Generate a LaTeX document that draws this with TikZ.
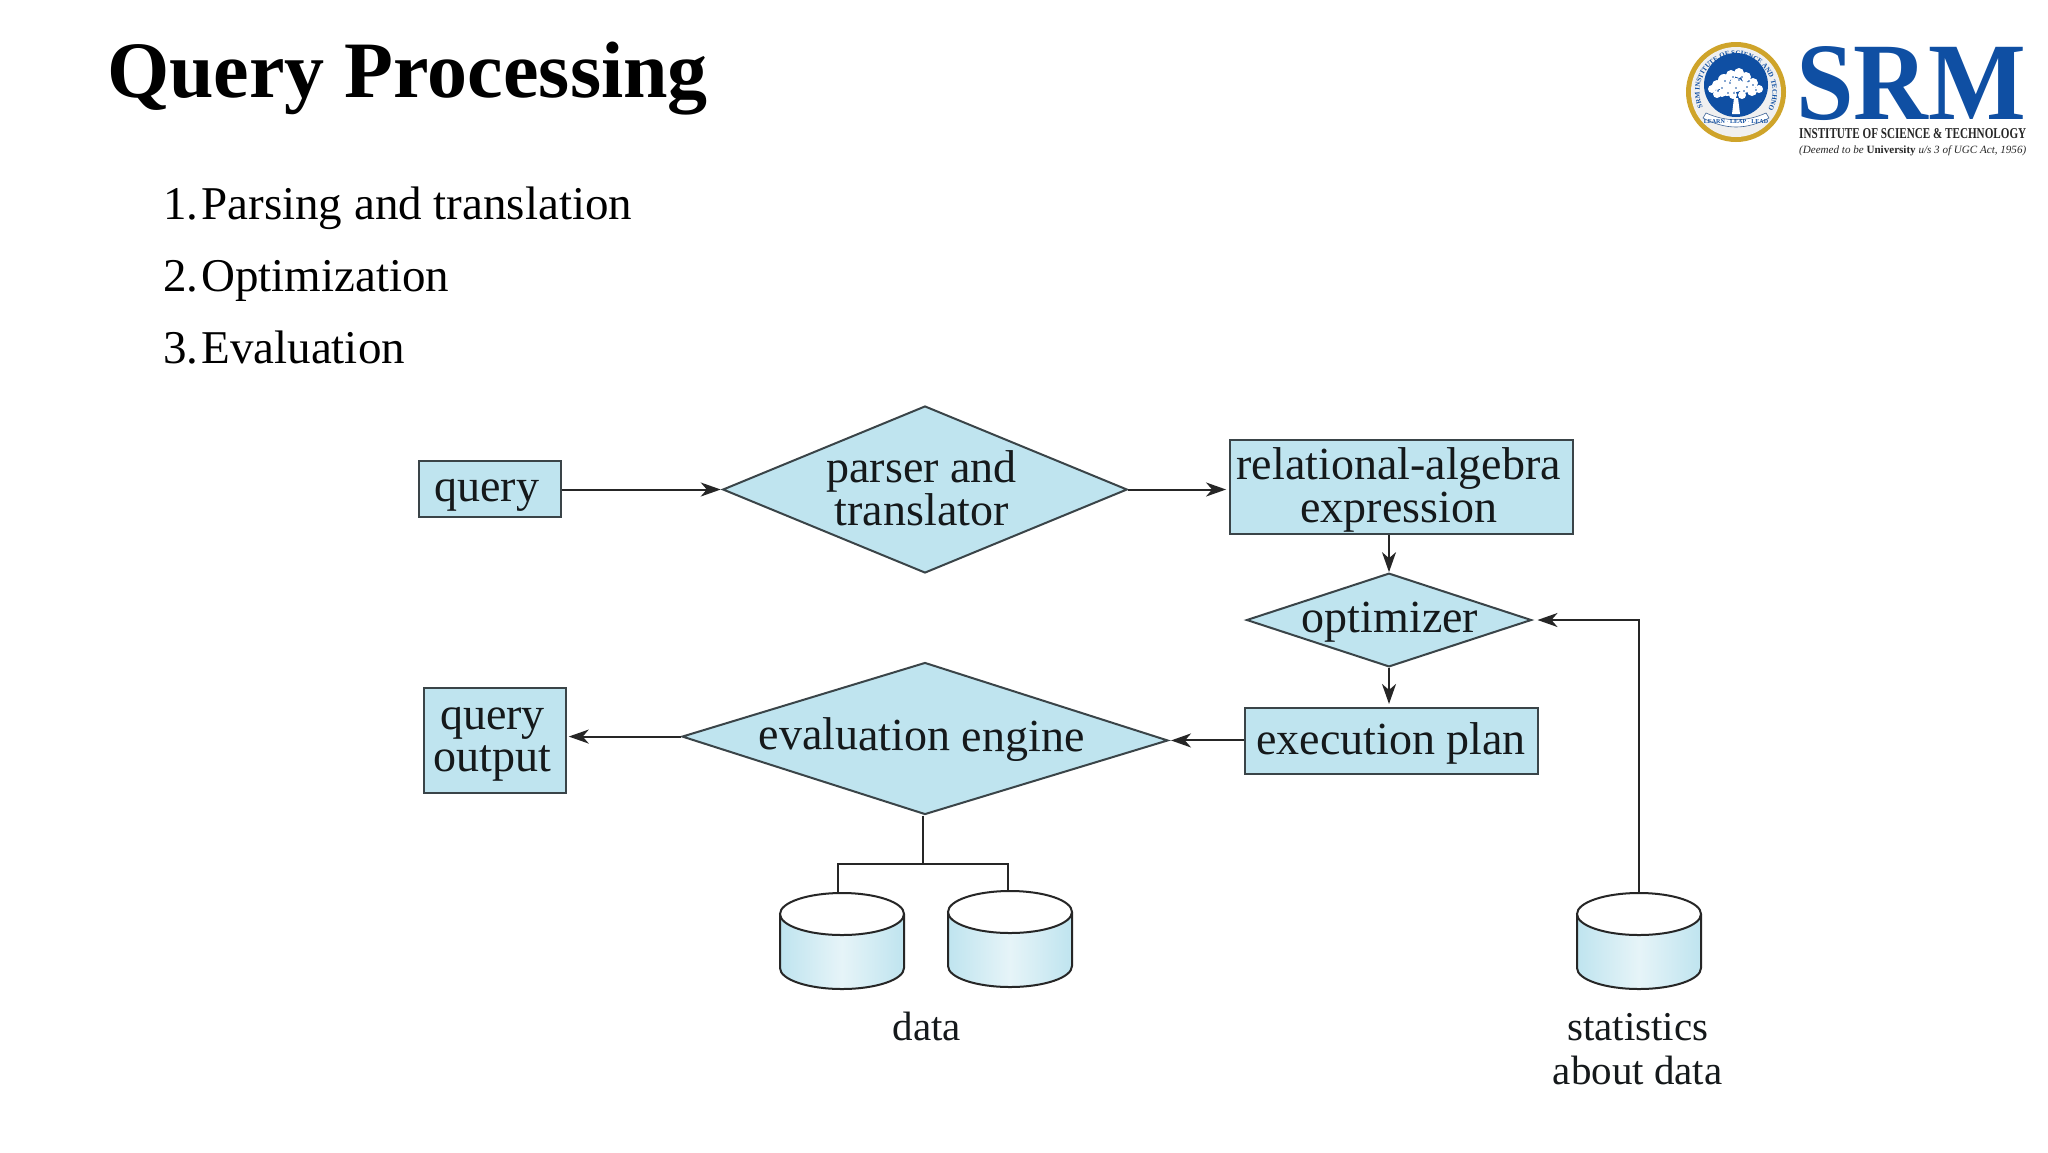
\documentclass[tikz,border=0pt]{standalone}
\usepackage{fontspec}
\setmainfont{Liberation Serif}
\usetikzlibrary{arrows.meta,shapes.geometric,decorations.text}
\definecolor{boxfill}{HTML}{BFE4EF}
\definecolor{boxedge}{HTML}{3A4448}
\definecolor{linecol}{HTML}{262626}
\definecolor{cylpale}{HTML}{E6F4F8}
\definecolor{srmblue}{HTML}{0F4FA3}
\definecolor{srmgold}{HTML}{CFA42A}
\definecolor{txtcol}{HTML}{15191B}
\newcommand\zt[3]{\raisebox{\dimexpr#2pt-4pt\relax}[0pt][0pt]{\makebox[0pt]{\hspace*{#1pt}\hspace*{#1pt}#3}}}
\newcommand\dbcyl[1]{%
  \begin{scope}[shift={#1}]
    \shade[left color=boxfill,right color=boxfill,middle color=cylpale]
      (-62,0) -- (-62,54) .. controls (-62,65.6) and (-34,75) .. (0,75)
      .. controls (34,75) and (62,65.6) .. (62,54) -- (62,0) -- cycle;
    \draw[cylline] (-62,0) -- (-62,54) .. controls (-62,65.6) and (-34,75) .. (0,75)
      .. controls (34,75) and (62,65.6) .. (62,54) -- (62,0);
    \draw[cylline,fill=white] (0,0) ellipse [x radius=62pt,y radius=21pt];
  \end{scope}}
\tikzset{
  x=1pt,y=-1pt,
  box/.style={draw=boxedge,line width=2pt,fill=boxfill,inner sep=0pt,text=txtcol,
    font=\fontsize{46}{46}\selectfont},
  dia/.style={diamond,draw=boxedge,line width=2pt,fill=boxfill,inner sep=0pt,text=txtcol,
    font=\fontsize{46}{46}\selectfont},
  cylline/.style={draw=linecol,line width=2pt},
  conn/.style={draw=linecol,line width=2pt},
  arr/.style={conn,-{Stealth[length=20pt,width=14pt,inset=6pt]}},
  caption/.style={anchor=base,text=txtcol,inner sep=0pt,font=\fontsize{41}{41}\selectfont},
  listitem/.style={anchor=base west,inner sep=0pt,text=black,font=\fontsize{47}{47}\selectfont},
}
\begin{document}
\begin{tikzpicture}
\useasboundingbox (0,0) rectangle (2048,1152);
\fill[white] (0,0) rectangle (2048,1152);

% title and list
\node[anchor=base west,inner sep=0pt,font=\fontsize{80}{80}\selectfont\bfseries] (title) at (107,97) {Query Processing};
\node[listitem] (l1) at (163,219) {1.\kern3pt Parsing and translation};
\node[listitem] (l2) at (163,291) {2.\kern3pt Optimization};
\node[listitem] (l3) at (163,363) {3.\kern3pt Evaluation};

% logo
\begin{scope}[shift={(1736,92)},x=1pt,y=1pt]
  \fill[srmgold] (0,0) circle (50);
  \fill[white!94!black] (0,0) circle (45);
  \fill[srmblue] (0,7) circle (32);
  \path[decorate,decoration={text along path,text align=fit to path,text color=srmblue,
    text={|\fontsize{7}{7}\selectfont\bfseries|SRM INSTITUTE OF SCIENCE AND TECHNOLOGY}}]
    (205:36.5) arc (205:-25:36.5);
  \fill[white] (-4,-22) -- (-2,-6) -- (2,-6) -- (4,-22) -- cycle;
  \foreach \px/\py/\pr in {-24/3/4,-19/-2/4,-19/7/5,-12/12/6,-5/17/5,3/19/5,10/15/5,17/9/5,23/3/4,16/1/5,8/5/6,0/7/7,-9/3/7,-3/-3/4,6/-3/4,-14/-1/4}
    \fill[white] (\px,\py) circle (\pr);
  \foreach \px/\py in {-14/4,-6/9,3/12,11/5,-2/-1,-18/1,8/1,17/7,-3/15,-11/11,6/15,13/11,-8/-1,20/2,0/4}
    \fill[srmblue] (\px,\py) circle (.9);
  \fill[white] (-30,-21) .. controls (-10,-30) and (10,-30) .. (30,-21)
     -- (33,-26) .. controls (10,-38) and (-10,-38) .. (-33,-26) -- cycle;
  \draw[srmblue!60!gray,line width=.6pt] (-30,-21) .. controls (-10,-30) and (10,-30) .. (30,-21)
     -- (33,-26) .. controls (10,-38) and (-10,-38) .. (-33,-26) -- cycle;
  \node[text=srmblue,inner sep=0pt,font=\fontsize{6}{6}\selectfont\bfseries] (motto) at (0,-29.5) {LEARN $\cdot$ LEAP $\cdot$ LEAD};
\end{scope}
\node[anchor=base west,inner sep=0pt,text=srmblue] (srm) at (1796,119)
  {\resizebox{230pt}{73pt}{\fontsize{109}{109}\selectfont\bfseries SRM}};
\node[anchor=base west,inner sep=0pt,text=black!85] (inst) at (1799,138.5)
  {\resizebox{227pt}{10pt}{\fontsize{15}{15}\selectfont\bfseries INSTITUTE OF SCIENCE \& TECHNOLOGY}};
\node[anchor=base west,inner sep=0pt,text=black!85] (deem) at (1799,153.5)
  {\resizebox{227pt}{!}{\fontsize{13}{13}\selectfont\itshape (Deemed to be {\upshape\bfseries University} u/s 3 of UGC Act, 1956)}};

% boxes and diamonds
\node[box,minimum width=141.6pt,minimum height=56.3pt] (q) at (490.2,488.8) {\zt{-3.5}{-8.5}{query}};
\node[box,minimum width=141.5pt,minimum height=105pt] (qo) at (495,740.5) {\zt{-2.5}{15.5}{query}\zt{-2.5}{-26.5}{output}};
\node[box,minimum width=342.5pt,minimum height=94pt] (rel) at (1401.3,487) {\zt{-2.6}{12}{relational-algebra}\zt{-2.6}{-31}{expression}};
\node[box,minimum width=293pt,minimum height=65.7pt] (ex) at (1391.5,740.8) {\zt{-0.5}{-9.2}{execution plan}};
\node[dia,aspect=2.42,minimum width=404.5pt,minimum height=167pt] (p) at (925,489.5) {\zt{-3.3}{11.5}{parser and}\zt{-3.3}{-32.2}{translator}};
\node[dia,aspect=3.04,minimum width=285pt,minimum height=93.7pt] (opt) at (1389,620) {\zt{1}{-8}{optimizer}};
\node[dia,aspect=3.2,minimum width=486pt,minimum height=152pt,yslant=-0.008] (ev) at (925,738.5) {\zt{-3.3}{-8.2}{evaluation engine}};

% cylinders
\dbcyl{(842,914)}
\dbcyl{(1010,912)}
\dbcyl{(1639,914)}
\coordinate (c1) at (837.5,893);
\coordinate (c2) at (1008,891);
\coordinate (c3) at (1639,893);
\coordinate (j) at (923,864);

% captions
\node[caption] (dl) at (926.7,1040) {data};
\node[caption] (sl) at (1637.7,1040) {statistics};
\node[caption] (al) at (1637.7,1084) {about data};

% connectors
\draw[arr,shorten >=1pt] (q.east |- p.west) -- (p.west);
\draw[arr,shorten >=3pt] (p.east) -- (p.east -| rel.west);
\draw[arr] (rel.south -| opt.north) -- (opt.north);
\draw[arr,shorten >=3pt] (opt.south) -- (opt.south |- ex.north);
\draw[arr,shorten >=2pt] (ex.west |- ev.east) -- (ev.east);
\draw[arr,shorten >=2pt] (ev.west) -- (ev.west -| qo.east);
\draw[arr,shorten >=5pt] (c3) |- (opt.east);
\draw[conn] (ev.south -| j) -- (j);
\draw[conn] (c1) |- (j);
\draw[conn] (c2) |- (j);
\end{tikzpicture}
\end{document}
